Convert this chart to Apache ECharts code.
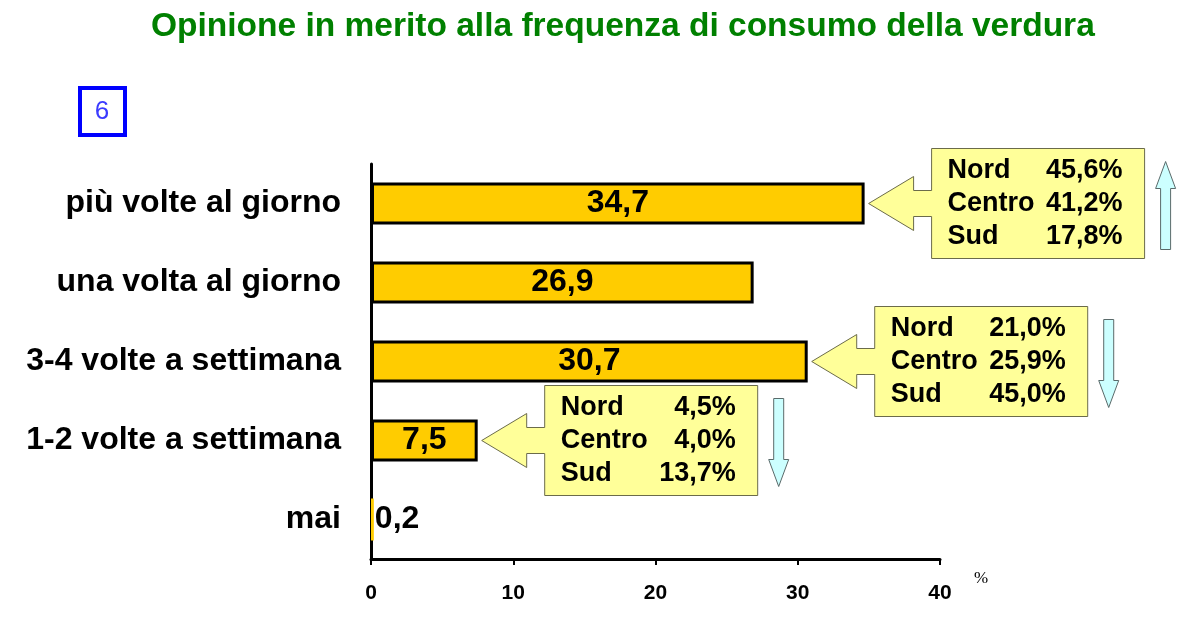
<!DOCTYPE html>
<html>
<head>
<meta charset="utf-8">
<script src="https://cdn.jsdelivr.net/npm/echarts@6/dist/echarts.min.js"></script>
<style>
  html, body { margin: 0; padding: 0; background: #ffffff; }
  #chart { width: 1179px; height: 631px; }
</style>
</head>
<body>
<div id="chart"></div>
<script>
// ---- data ----
const titleText = 'Opinione in merito alla frequenza di consumo della verdura';
const categories = ['più volte al giorno', 'una volta al giorno', '3-4 volte a settimana', '1-2 volte a settimana', 'mai'];
const values = [34.7, 26.9, 30.7, 7.5, 0.2];
const xTicks = [0, 10, 20, 30, 40];

// regional breakdown callouts
const calloutCategories = ['più volte al giorno', '3-4 volte a settimana', '1-2 volte a settimana'];
const regionNames = ['Nord', 'Centro', 'Sud'];
const nord = [45.6, 21.0, 4.5];
const centro = [41.2, 25.9, 4.0];
const sud = [17.8, 45.0, 13.7];
const trend = ['up', 'down', 'down'];

const fmt = v => v.toFixed(1).replace('.', ',');
const FONT = '"Liberation Sans", Arial, sans-serif';

const chart = echarts.init(document.getElementById('chart'));

const calloutData = calloutCategories.map((c, i) => {
  const ci = categories.indexOf(c);
  return [values[ci], ci, i];
});

function renderCallout(params, api) {
  const idx = api.value(2);
  const p = api.coord([api.value(0), api.value(1)]);
  const tx = p[0] + 4, ty = p[1];
  const headX = tx + 45, boxL = tx + 63, boxW = 213, boxR = boxL + boxW;
  const pts = [
    [tx, ty], [headX, ty - 27], [headX, ty - 13], [boxL, ty - 13], [boxL, ty - 55],
    [boxR, ty - 55], [boxR, ty + 55], [boxL, ty + 55], [boxL, ty + 13],
    [headX, ty + 13], [headX, ty + 27]
  ];
  const children = [{
    type: 'polygon',
    shape: { points: pts },
    style: { fill: '#ffff99', stroke: '#6b6b4a', lineWidth: 1 }
  }];
  const vals = [nord[idx], centro[idx], sud[idx]];
  regionNames.forEach((name, r) => {
    const y = ty - 33 + r * 33;
    children.push({
      type: 'text',
      style: { text: name, x: boxL + 16, y: y, font: 'bold 27px ' + FONT, fill: '#000', align: 'left', verticalAlign: 'middle' }
    });
    children.push({
      type: 'text',
      style: { text: fmt(vals[r]) + '%', x: boxR - 22, y: y, font: 'bold 27px ' + FONT, fill: '#000', align: 'right', verticalAlign: 'middle' }
    });
  });
  // trend arrow
  const ax0 = boxR + 11, ax1 = boxR + 31, amid = (ax0 + ax1) / 2;
  const top = ty - 42, bot = ty + 46, headH = 27;
  let apts;
  if (trend[idx] === 'up') {
    apts = [[amid, top], [ax1, top + headH], [amid + 5, top + headH], [amid + 5, bot],
            [amid - 5, bot], [amid - 5, top + headH], [ax0, top + headH]];
  } else {
    apts = [[amid, bot], [ax1, bot - headH], [amid + 5, bot - headH], [amid + 5, top],
            [amid - 5, top], [amid - 5, bot - headH], [ax0, bot - headH]];
  }
  children.push({
    type: 'polygon',
    shape: { points: apts },
    style: { fill: '#ccffff', stroke: '#5a6a6a', lineWidth: 1 }
  });
  return { type: 'group', children: children };
}

const option = {
  backgroundColor: '#ffffff',
  animation: false,
  title: {
    text: titleText,
    left: 146,
    top: 5,
    textStyle: { color: '#008000', fontSize: 33.5, fontWeight: 'bold', fontFamily: FONT }
  },
  grid: { left: 371, right: 239, top: 164, bottom: 72, containLabel: false },
  xAxis: {
    type: 'value',
    min: xTicks[0],
    max: xTicks[xTicks.length - 1],
    interval: 10,
    axisLine: { show: true, lineStyle: { color: '#000', width: 3 } },
    axisTick: { show: true, length: 6, lineStyle: { color: '#000', width: 2 } },
    splitLine: { show: false },
    axisLabel: { margin: 24, color: '#000', fontSize: 21, fontWeight: 'bold', fontFamily: FONT }
  },
  yAxis: {
    type: 'category',
    data: categories,
    inverse: true,
    axisLine: { show: true, lineStyle: { color: '#000', width: 3 } },
    axisTick: { show: false },
    axisLabel: { margin: 30, color: '#000', fontSize: 32, fontWeight: 'bold', fontFamily: FONT }
  },
  series: [
    {
      type: 'bar',
      data: values.map(v => v < 1
        ? { value: v, itemStyle: { borderWidth: 0 }, label: { position: 'right', offset: [-4, 0] } }
        : v),
      barWidth: 42,
      itemStyle: { color: '#ffcc00', borderColor: '#000', borderWidth: 3 },
      label: {
        show: true,
        position: 'inside',
        color: '#000',
        fontSize: 32,
        fontWeight: 'bold',
        fontFamily: FONT,
        formatter: p => fmt(p.value)
      },
      z: 2
    },
    {
      type: 'custom',
      clip: false,
      renderItem: renderCallout,
      encode: { x: 0, y: 1 },
      data: calloutData,
      z: 5,
      silent: true
    }
  ],
  graphic: [
    {
      type: 'rect',
      shape: { x: 80, y: 88, width: 45, height: 47 },
      style: { fill: '#fff', stroke: '#0000ff', lineWidth: 4 }
    },
    {
      type: 'text',
      style: { text: '6', x: 102, y: 112, align: 'center', verticalAlign: 'middle', font: '26px ' + FONT, fill: '#3b3bff' }
    },
    {
      type: 'text',
      style: { text: '%', x: 974, y: 579, align: 'left', verticalAlign: 'middle', font: '17px "Liberation Serif", "Times New Roman", serif', fill: '#000' }
    }
  ]
};

chart.setOption(option);
</script>
</body>
</html>
